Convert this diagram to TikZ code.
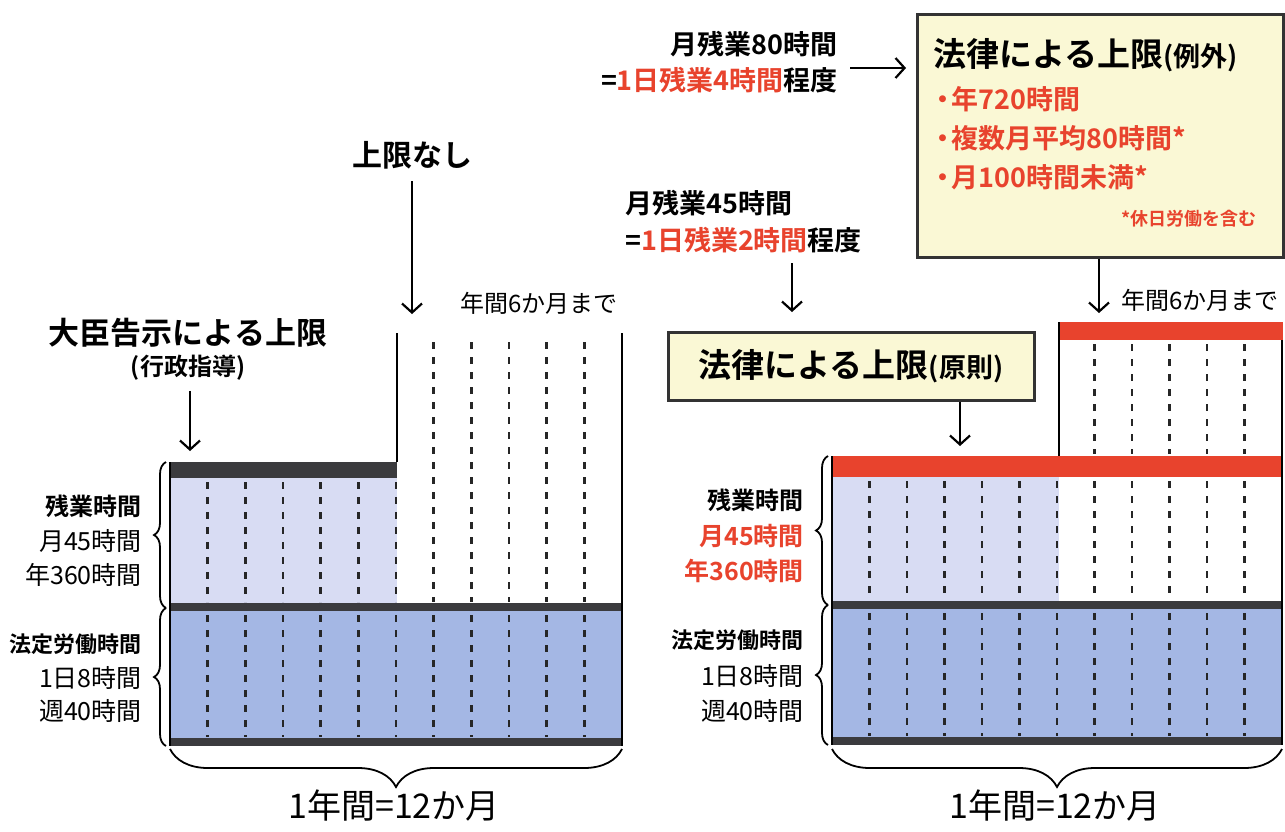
\documentclass[tikz,border=0pt]{standalone}
\usepackage{fontspec}
\setmainfont{Noto Sans CJK JP}[BoldFont={Noto Sans CJK JP Bold}]
\usetikzlibrary{arrows.meta,decorations.pathreplacing}
\definecolor{jred}{HTML}{E8432D}
\definecolor{darkbar}{HTML}{3B3B3E}
\definecolor{lightov}{HTML}{D8DCF3}
\definecolor{regblue}{HTML}{A4B7E4}
\definecolor{boxfill}{HTML}{FAF8D5}
\definecolor{boxline}{HTML}{333333}
\newcommand{\jfs}[1]{\fontsize{#1}{#1}\selectfont}
\newcommand{\bul}{・\hspace{-5pt}}
\begin{document}
\begin{tikzpicture}[x=1pt,y=-1pt,
  arr/.style={line width=2.2pt,-{Straight Barb[length=9pt,width=20pt,line width=2.2pt]}},
  dsh/.style={line width=2.4pt,dash pattern=on 7pt off 8pt,black!85},
  edgel/.style={line width=2pt,black},
  brc/.style={decorate,decoration={brace,amplitude=#1},line width=1.8pt},
  lb/.style={anchor=east,inner sep=0pt},
  tx/.style={inner sep=0pt}]
\useasboundingbox (0,0) rectangle (1285,831);
\fill[white] (0,0) rectangle (1285,831);

% ---------------- left chart ----------------
\fill[lightov] (170,478) rectangle (397,604);
\fill[regblue] (170,611) rectangle (622,738);
\foreach \i in {1,...,11} \draw[dsh] ({170+37.667*\i},615) -- ({170+37.667*\i},737);
\foreach \i in {1,...,6} \draw[dsh] ({170+37.667*\i},482) -- ({170+37.667*\i},602);
\foreach \i in {7,...,11} \draw[dsh] ({170+37.667*\i},342) -- ({170+37.667*\i},602);
\fill[darkbar] (170,462) rectangle (397,478);
\fill[darkbar] (170,603) rectangle (622,611);
\fill[darkbar] (170,738) rectangle (622,746);
\draw[line width=1.5pt] (170,462) -- (170,746);
\draw[edgel] (397,333) -- (397,462);
\draw[edgel] (622,333) -- (622,746);

\draw[brc=12pt] (166,608) -- (166,462);
\draw[brc=12pt] (166,746) -- (166,608);
\draw[brc=38pt] (622,749) -- (170,749);

\node[lb,font=\bfseries\jfs{24}] (lov) at (142,506) {残業時間};
\node[lb,font=\jfs{25}] (lov2) at (142,541) {月45時間};
\node[lb,font=\jfs{25}] (lov3) at (142,575) {年360時間};
\node[lb,font=\bfseries\jfs{22}] (lreg) at (142,644) {法定労働時間};
\node[lb,font=\jfs{25}] (lreg2) at (142,678) {1日8時間};
\node[lb,font=\jfs{25}] (lreg3) at (142,711) {週40時間};
\node[tx,font=\jfs{34}] (lyear) at (394,806) {1年間=12か月};

\node[tx,font=\bfseries\jfs{31}] (daijin) at (188,333) {大臣告示による上限};
\node[tx,font=\bfseries\jfs{24}] (gyosei) at (188,368) {(行政指導)};
\coordinate (daijinend) at (190,451);
\draw[arr] ([yshift=-10pt]gyosei.south -| daijinend) -- (daijinend);

\node[tx,font=\bfseries\jfs{30}] (nashi) at (412,155) {上限なし};
\coordinate (nashiend) at (412,314);
\draw[arr] ([yshift=-12pt]nashi.south -| nashiend) -- (nashiend);
\node[tx,font=\jfs{24}] (l6m) at (539,303) {年間6か月まで};

% ---------------- right chart ----------------
\fill[lightov] (832,477) rectangle (1059,601);
\fill[regblue] (832,609) rectangle (1282,737);
\foreach \i in {1,...,11} \draw[dsh] ({832+37.5*\i},613) -- ({832+37.5*\i},736);
\foreach \i in {1,...,11} \draw[dsh] ({832+37.5*\i},481) -- ({832+37.5*\i},599);
\foreach \i in {7,...,11} \draw[dsh] ({832+37.5*\i},344) -- ({832+37.5*\i},454);
\fill[jred] (832,456) rectangle (1283,477);
\fill[jred] (1059,322) rectangle (1283,340);
\fill[darkbar] (832,601) rectangle (1283,609);
\fill[darkbar] (832,737) rectangle (1283,745);
\draw[line width=1.5pt] (832,456) -- (832,745);
\draw[edgel] (1059,322) -- (1059,456);
\draw[line width=1.5pt] (1282,340) -- (1282,745);

\draw[brc=12pt] (828,605) -- (828,456);
\draw[brc=12pt] (828,745) -- (828,605);
\draw[brc=38pt] (1282,749) -- (832,749);

\node[lb,font=\bfseries\jfs{24}] (rov) at (804,500) {残業時間};
\node[lb,font=\bfseries\jfs{25},text=jred] (rov2) at (804,536) {月45時間};
\node[lb,font=\bfseries\jfs{25},text=jred] (rov3) at (804,571) {年360時間};
\node[lb,font=\bfseries\jfs{22}] (rreg) at (804,640) {法定労働時間};
\node[lb,font=\jfs{25}] (rreg2) at (804,676) {1日8時間};
\node[lb,font=\jfs{25}] (rreg3) at (804,711) {週40時間};
\node[tx,font=\jfs{34}] (ryear) at (1055,806) {1年間=12か月};

% top right texts
\node[lb,font=\bfseries\jfs{27}] (m80) at (838,44) {月残業80時間};
\node[lb,font=\bfseries\jfs{27}] (m80b) at (838,80) {=\textcolor{jred}{1日残業4時間}程度};
\node[draw=boxline,line width=3pt,fill=boxfill,anchor=north west,minimum width=366pt,minimum height=243pt,inner sep=0pt] (exbox) at (916,13) {};
\draw[arr] ([xshift=12pt]m80b.east |- 0,68) -- ([xshift=-10pt]exbox.west |- 0,68);
\node[anchor=west,tx,font=\bfseries\jfs{33}] (extitle) at (933,55) {法律による上限{\jfs{27}(例外)}};
\node[anchor=west,tx,font=\bfseries\jfs{27},text=jred] (ex1) at (929,99) {\bul 年720時間};
\node[anchor=west,tx,font=\bfseries\jfs{27},text=jred] (ex2) at (929,138) {\bul 複数月平均80時間*};
\node[anchor=west,tx,font=\bfseries\jfs{27},text=jred] (ex3) at (929,177) {\bul 月100時間未満*};
\node[anchor=east,tx,font=\bfseries\jfs{18},text=jred] (exnote) at (1257,219) {*休日労働を含む};
\coordinate (exend) at (1099,313);
\draw[arr] (exbox.south -| exend) -- (exend);
\node[anchor=west,tx,font=\jfs{24}] (r6m) at (1121,300) {年間6か月まで};

\node[anchor=west,tx,font=\bfseries\jfs{27}] (m45) at (625,203) {月残業45時間};
\node[anchor=west,tx,font=\bfseries\jfs{27}] (m45b) at (625,240) {=\textcolor{jred}{1日残業2時間}程度};
\coordinate (m45end) at (792,312);
\draw[arr] ([yshift=-10pt]m45b.south -| m45end) -- (m45end);

\node[draw=boxline,line width=3pt,fill=boxfill,minimum width=366pt,minimum height=68pt,inner sep=0pt] (prbox) at (851,366) {};
\node[tx,font=\bfseries\jfs{33}] (prtitle) at (prbox.center) {法律による上限{\jfs{27}(原則)}};
\coordinate (prend) at (960,446);
\draw[arr] (prbox.south -| prend) -- (prend);
\end{tikzpicture}
\end{document}
